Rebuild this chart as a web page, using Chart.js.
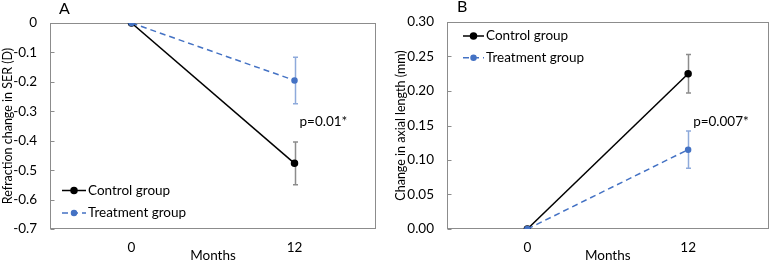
<!DOCTYPE html>
<html>
<head>
<meta charset="utf-8">
<script src="https://cdn.jsdelivr.net/npm/chart.js@4.4.1/dist/chart.umd.min.js"></script>
<style>
  html, body { margin: 0; padding: 0; background: #fff; overflow: hidden; }
  .panel { position: absolute; top: 0; width: 387px; height: 262px; }
  #panelA { left: 0; }
  #panelB { left: 387px; }
</style>
</head>
<body>
<div class="panel" id="panelA"><canvas id="chartA" width="387" height="262"></canvas></div>
<div class="panel" id="panelB"><canvas id="chartB" width="387" height="262"></canvas></div>
<script>
// Data
const months = ["0", "12"];
const seriesNames = ["Control group", "Treatment group"];

// A: refraction change in SER (D)
const serControl = [0, -0.477];
const serControlErr = [0, 0.073];
const serTreatment = [0, -0.195];
const serTreatmentErr = [0, 0.079];
const serTicks = [0, -0.1, -0.2, -0.3, -0.4, -0.5, -0.6, -0.7];

// B: change in axial length (mm)
const alControl = [0, 0.225];
const alControlErr = [0, 0.028];
const alTreatment = [0, 0.115];
const alTreatmentErr = [0, 0.027];
const alTicks = [0, 0.05, 0.10, 0.15, 0.20, 0.25, 0.30];

const FONT = "Lato, 'Liberation Sans', sans-serif";
const GREY = "#8c8c8c";
const BLUE = "#4472c4";
const ERR_BLUE = "#8eaadb";

// box, inside ticks, error bars, legend, notes
const panelExtras = {
    id: "panelExtras",
    beforeDatasetsDraw(chart, args, opts) {
        const { ctx, chartArea: a, scales: { x, y } } = chart;
        ctx.save();
        ctx.strokeStyle = GREY;
        ctx.lineWidth = 1;
        const l = Math.round(a.left) + 0.5, t = Math.round(a.top) + 0.5;
        const r = Math.round(a.right) - 0.5, b = Math.round(a.bottom) - 0.5;
        ctx.strokeRect(l, t, r - l, b - t);
        y.ticks.forEach(tk => {
            const py = Math.round(y.getPixelForValue(tk.value)) + 0.5;
            ctx.beginPath();
            ctx.moveTo(l, py);
            ctx.lineTo(l + 4, py);
            ctx.stroke();
        });
        // error bars
        chart.data.datasets.forEach(ds => {
            ctx.strokeStyle = ds.errColor;
            ctx.lineWidth = 1.5;
            ds.data.forEach((v, i) => {
                const e = ds.errors[i];
                if (!e) return;
                const px = Math.round(x.getPixelForValue(i)) + 0.5;
                const top = y.getPixelForValue(v + e);
                const bot = y.getPixelForValue(v - e);
                ctx.beginPath();
                ctx.moveTo(px, top); ctx.lineTo(px, bot);
                ctx.moveTo(px - 2.5, top); ctx.lineTo(px + 2.5, top);
                ctx.moveTo(px - 2.5, bot); ctx.lineTo(px + 2.5, bot);
                ctx.stroke();
            });
        });
        ctx.restore();
    },
    afterDraw(chart, args, opts) {
        const { ctx, scales: { x, y } } = chart;
        ctx.save();
        ctx.fillStyle = "#000";
        ctx.textBaseline = "alphabetic";
        ctx.font = "16px " + FONT;
        ctx.fillText(opts.letter, opts.letterX, opts.letterY);

        // legend
        ctx.font = "13.5px " + FONT;
        ctx.textBaseline = "middle";
        chart.data.datasets.forEach((ds, i) => {
            const ly = opts.legendY + i * opts.legendGap;
            const lx = opts.legendX;
            ctx.strokeStyle = ds.borderColor;
            ctx.lineWidth = ds.borderWidth;
            ctx.setLineDash(ds.borderDash || []);
            ctx.beginPath();
            ctx.moveTo(lx, ly); ctx.lineTo(lx + opts.lineLen, ly);
            ctx.stroke();
            ctx.setLineDash([]);
            ctx.fillStyle = ds.pointBackgroundColor;
            ctx.strokeStyle = ds.pointBorderColor;
            Chart.helpers.drawPoint(ctx, { pointStyle: ds.pointStyle, radius: ds.pointRadius, rotation: 0, borderWidth: 1 }, lx + opts.lineLen / 2, ly);
            ctx.fillStyle = "#000";
            ctx.fillText(ds.label, lx + opts.lineLen + 2, ly);
        });

        // significance note beside month 12
        ctx.fillText(opts.note, x.getPixelForValue(1) + 5, y.getPixelForValue(opts.noteAt));
        ctx.restore();
    }
};

function makeDatasets(ctrl, ctrlErr, trt, trtErr) {
    return [
        {
            label: seriesNames[0], data: ctrl, errors: ctrlErr, errColor: GREY,
            borderColor: "#000", borderWidth: 1.5,
            pointStyle: "circle", pointRadius: 3, pointBackgroundColor: "#000", pointBorderColor: "#000",
            order: 2
        },
        {
            label: seriesNames[1], data: trt, errors: trtErr, errColor: ERR_BLUE,
            borderColor: BLUE, borderWidth: 1.5, borderDash: [6, 4],
            pointStyle: "circle", pointRadius: 2.5, pointBackgroundColor: BLUE, pointBorderColor: BLUE,
            order: 1
        }
    ];
}

function makeChart(id, cfg) {
    return new Chart(document.getElementById(id), {
        type: "line",
        data: {
            labels: months,
            datasets: cfg.datasets
        },
        plugins: [panelExtras],
        options: {
            responsive: false,
            animation: false,
            layout: { padding: cfg.padding },
            plugins: {
                legend: { display: false },
                tooltip: { enabled: false },
                panelExtras: cfg.extras
            },
            scales: {
                x: {
                    type: "category",
                    offset: true,
                    grid: { display: false, drawTicks: false },
                    border: { display: false },
                    ticks: { color: "#000", font: { family: FONT, size: 13.5 }, padding: 11 },
                    title: { display: true, text: "Months", color: "#000", font: { family: FONT, size: 13.5 }, padding: { top: 0, bottom: -2 } },
                    afterFit(s) { s.height = 33; }
                },
                y: {
                    min: cfg.min, max: cfg.max,
                    grid: { display: false, drawTicks: false },
                    border: { display: false },
                    afterBuildTicks(s) { s.ticks = cfg.ticks.map(v => ({ value: v })); },
                    ticks: { color: "#000", font: { family: FONT, size: 13.5 }, padding: 13, callback: cfg.fmt },
                    title: { display: true, text: cfg.yTitle, color: "#000", font: { family: FONT, size: 12.5 }, padding: { top: cfg.yTitlePad, bottom: 0 } },
                    afterFit(s) { s.width = cfg.yWidth; }
                }
            }
        }
    });
}

makeChart("chartA", {
    datasets: makeDatasets(serControl, serControlErr, serTreatment, serTreatmentErr),
    min: -0.7, max: 0, ticks: serTicks,
    fmt: v => v === 0 ? "0" : v.toFixed(1),
    yTitle: "Refraction change in SER (D)", yTitlePad: 0, yWidth: 50,
    padding: { top: 23, right: 11, left: 0, bottom: 0 },
    extras: { letter: "A", letterX: 59, letterY: 14, legendX: 62, legendY: 190.5, legendGap: 22.6, lineLen: 24, note: "p=0.01*", noteAt: -0.334 }
});

makeChart("chartB", {
    datasets: makeDatasets(alControl, alControlErr, alTreatment, alTreatmentErr),
    min: 0, max: 0.3, ticks: alTicks,
    fmt: v => v.toFixed(2),
    yTitle: "Change in axial length (mm)", yTitlePad: 6, yWidth: 60,
    padding: { top: 22, right: 2, left: 0, bottom: 0 },
    extras: { letter: "B", letterX: 70, letterY: 11.5, legendX: 76, legendY: 36, legendGap: 21.7, lineLen: 21, note: "p=0.007*", noteAt: 0.155 }
});
</script>
</body>
</html>
